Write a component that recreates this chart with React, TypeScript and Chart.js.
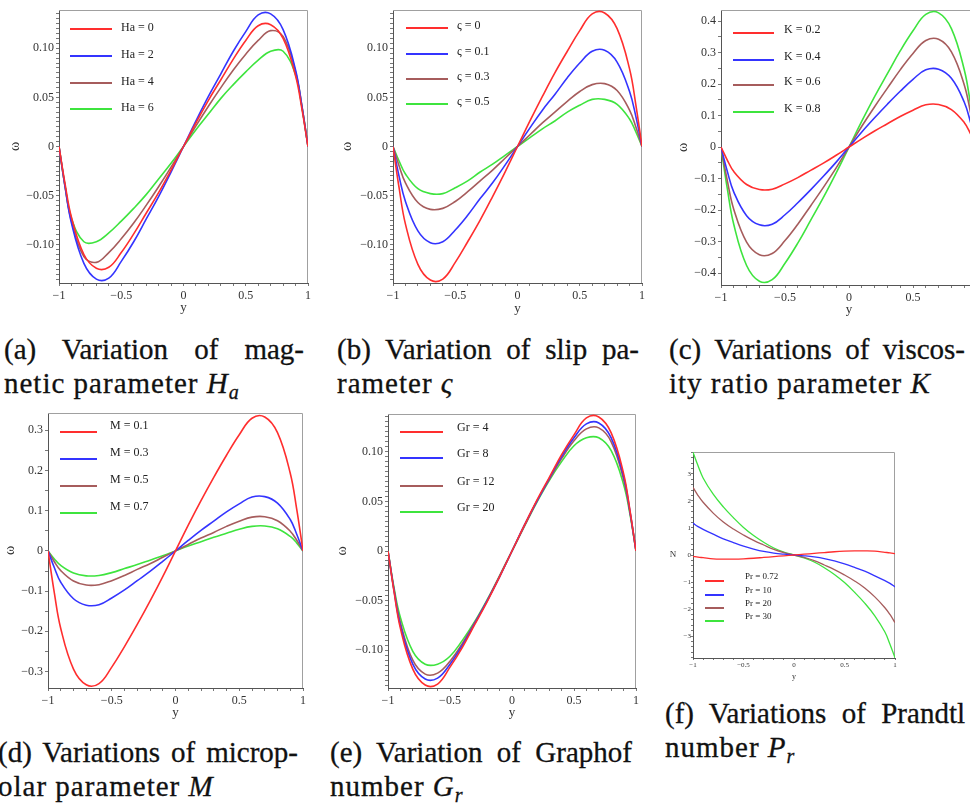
import React, { useEffect, useRef } from 'react';
import { Chart, registerables } from 'chart.js';

Chart.register(...registerables);

// ---------- shared abscissa (y) ----------
const yPos = [-1, -0.95, -0.9, -0.8, -0.7, -0.6, -0.5, -0.4, -0.3, -0.2, -0.1, 0, 0.1, 0.2, 0.3, 0.4, 0.5, 0.6, 0.7, 0.8, 0.9, 0.95, 1];
const xMajorStep = 0.5;
const xMinorStep = 0.1;

// ---------- (a) magnetic parameter Ha ----------
const haLabels = ['Ha = 0', 'Ha = 2', 'Ha = 4', 'Ha = 6'];
const ha0 = [0, -0.039, -0.072, -0.110, -0.124, -0.123, -0.108, -0.089, -0.068, -0.047, -0.024, 0, 0.024, 0.047, 0.068, 0.089, 0.108, 0.123, 0.124, 0.110, 0.072, 0.039, 0];
const ha2 = [0, -0.042, -0.078, -0.119, -0.135, -0.134, -0.117, -0.097, -0.074, -0.051, -0.026, 0, 0.026, 0.051, 0.074, 0.097, 0.117, 0.134, 0.135, 0.119, 0.078, 0.042, 0];
const ha4 = [0, -0.042, -0.076, -0.112, -0.118, -0.108, -0.094, -0.078, -0.060, -0.041, -0.021, 0, 0.021, 0.041, 0.060, 0.078, 0.094, 0.108, 0.118, 0.112, 0.076, 0.042, 0];
const ha6 = [0, -0.041, -0.073, -0.097, -0.097, -0.088, -0.076, -0.063, -0.049, -0.033, -0.017, 0, 0.017, 0.033, 0.049, 0.063, 0.076, 0.088, 0.097, 0.097, 0.073, 0.041, 0];

// ---------- (b) slip parameter ----------
const slLabels = ['ς = 0', 'ς = 0.1', 'ς = 0.3', 'ς = 0.5'];
const sl0 = [0, -0.043, -0.079, -0.120, -0.136, -0.135, -0.118, -0.097, -0.075, -0.051, -0.026, 0, 0.026, 0.051, 0.075, 0.097, 0.118, 0.135, 0.136, 0.120, 0.079, 0.043, 0];
const sl1 = [0, -0.031, -0.056, -0.086, -0.098, -0.097, -0.085, -0.070, -0.053, -0.037, -0.019, 0, 0.019, 0.037, 0.053, 0.070, 0.085, 0.097, 0.098, 0.086, 0.056, 0.031, 0];
const sl3 = [0, -0.020, -0.037, -0.057, -0.064, -0.063, -0.056, -0.046, -0.035, -0.024, -0.012, 0, 0.012, 0.024, 0.035, 0.046, 0.056, 0.063, 0.064, 0.057, 0.037, 0.020, 0];
const sl5 = [0, -0.015, -0.028, -0.043, -0.048, -0.048, -0.042, -0.035, -0.026, -0.018, -0.009, 0, 0.009, 0.018, 0.026, 0.035, 0.042, 0.048, 0.048, 0.043, 0.028, 0.015, 0];

// ---------- (c) viscosity ratio K ----------
const kLabels = ['K = 0.2', 'K = 0.4', 'K = 0.6', 'K = 0.8'];
const k2 = [0, -0.042, -0.078, -0.119, -0.135, -0.134, -0.117, -0.097, -0.074, -0.051, -0.026, 0, 0.026, 0.051, 0.074, 0.097, 0.117, 0.134, 0.135, 0.119, 0.078, 0.042, 0];
const k4 = [0, -0.078, -0.143, -0.218, -0.247, -0.245, -0.215, -0.177, -0.136, -0.093, -0.048, 0, 0.048, 0.093, 0.136, 0.177, 0.215, 0.245, 0.247, 0.218, 0.143, 0.078, 0];
const k6 = [0, -0.108, -0.198, -0.302, -0.342, -0.338, -0.297, -0.245, -0.187, -0.128, -0.066, 0, 0.066, 0.128, 0.187, 0.245, 0.297, 0.338, 0.342, 0.302, 0.198, 0.108, 0];
const k8 = [0, -0.134, -0.246, -0.376, -0.426, -0.421, -0.369, -0.305, -0.233, -0.160, -0.082, 0, 0.082, 0.160, 0.233, 0.305, 0.369, 0.421, 0.426, 0.376, 0.246, 0.134, 0];

// ---------- (d) micropolar parameter M ----------
const mLabels = ['M = 0.1', 'M = 0.3', 'M = 0.5', 'M = 0.7'];
const m1 = [0, -0.105, -0.193, -0.294, -0.333, -0.330, -0.289, -0.238, -0.183, -0.125, -0.064, 0, 0.064, 0.125, 0.183, 0.238, 0.289, 0.330, 0.333, 0.294, 0.193, 0.105, 0];
const m3 = [0, -0.042, -0.078, -0.119, -0.135, -0.134, -0.117, -0.097, -0.074, -0.051, -0.026, 0, 0.026, 0.051, 0.074, 0.097, 0.117, 0.134, 0.135, 0.119, 0.078, 0.042, 0];
const m5 = [0, -0.027, -0.049, -0.075, -0.085, -0.084, -0.074, -0.061, -0.046, -0.032, -0.016, 0, 0.016, 0.032, 0.046, 0.061, 0.074, 0.084, 0.085, 0.075, 0.049, 0.027, 0];
const m7 = [0, -0.020, -0.036, -0.055, -0.062, -0.061, -0.054, -0.044, -0.034, -0.023, -0.012, 0, 0.012, 0.023, 0.034, 0.044, 0.054, 0.061, 0.062, 0.055, 0.036, 0.020, 0];

// ---------- (e) Grashof number Gr ----------
const grLabels = ['Gr = 4', 'Gr = 8', 'Gr = 12', 'Gr = 20'];
const gr4 = [0, -0.042, -0.078, -0.119, -0.135, -0.134, -0.117, -0.097, -0.074, -0.051, -0.026, 0, 0.026, 0.051, 0.074, 0.097, 0.117, 0.134, 0.135, 0.119, 0.078, 0.042, 0];
const gr8 = [0, -0.041, -0.075, -0.114, -0.129, -0.128, -0.114, -0.095, -0.073, -0.050, -0.026, 0, 0.026, 0.050, 0.073, 0.095, 0.114, 0.128, 0.129, 0.114, 0.075, 0.041, 0];
const gr12 = [0, -0.040, -0.072, -0.110, -0.124, -0.123, -0.111, -0.093, -0.072, -0.050, -0.025, 0, 0.025, 0.050, 0.072, 0.093, 0.111, 0.123, 0.124, 0.110, 0.072, 0.040, 0];
const gr20 = [0, -0.038, -0.067, -0.101, -0.114, -0.114, -0.106, -0.090, -0.071, -0.049, -0.025, 0, 0.025, 0.049, 0.071, 0.090, 0.106, 0.114, 0.114, 0.101, 0.067, 0.038, 0];

// ---------- (f) Prandtl number Pr ----------
const prLabels = ['Pr = 0.72', 'Pr = 10', 'Pr = 20', 'Pr = 30'];
const pr072 = [-0.05, -0.08, -0.10, -0.14, -0.15, -0.15, -0.14, -0.12, -0.09, -0.06, -0.03, 0, 0.03, 0.06, 0.09, 0.12, 0.14, 0.15, 0.15, 0.14, 0.10, 0.08, 0.05];
const pr10 = [1.18, 1.05, 0.95, 0.77, 0.60, 0.46, 0.33, 0.22, 0.13, 0.07, 0.03, 0, -0.03, -0.07, -0.13, -0.22, -0.33, -0.46, -0.60, -0.77, -0.95, -1.05, -1.18];
const pr20 = [2.5, 2.2, 1.95, 1.55, 1.22, 0.96, 0.74, 0.54, 0.37, 0.21, 0.09, 0, -0.09, -0.21, -0.37, -0.54, -0.74, -0.96, -1.22, -1.55, -1.95, -2.2, -2.5];
const pr30 = [3.8, 3.3, 2.85, 2.25, 1.78, 1.38, 1.02, 0.72, 0.47, 0.26, 0.11, 0, -0.11, -0.26, -0.47, -0.72, -1.02, -1.38, -1.78, -2.25, -2.85, -3.3, -3.8];

// ---------- styling ----------
const SERIF = '"Liberation Serif", "Times New Roman", serif';
const COLORS = ['#ff2e2e', '#3434ff', '#a65c5c', '#3ee43e'];

type Legend = { x0: number; x1: number; tx: number; rows: number[]; lineDy: number; size: number };
type PanelDef = {
  key: string;
  plot: { l: number; t: number; r: number; b: number };
  labels: string[];
  series: number[][];
  yMin: number; yMax: number; yMajor: number; yMinor: number; yDec: number;
  yTitle: string; upright?: boolean; yTitleGap: number; xTitleGap: number;
  small?: boolean;
  legend: Legend;
};

const PANELS: PanelDef[] = [
  { key: 'a', plot: { l: 59, t: 10, r: 308, b: 283 }, labels: haLabels, series: [ha0, ha2, ha4, ha6],
    yMin: -0.139, yMax: 0.139, yMajor: 0.05, yMinor: 0.005, yDec: 2, yTitle: 'ω', yTitleGap: 44, xTitleGap: 25,
    legend: { x0: 11, x1: 53, tx: 62, rows: [18, 45, 72, 98], lineDy: 1, size: 12 } },
  { key: 'b', plot: { l: 393, t: 10, r: 642, b: 283 }, labels: slLabels, series: [sl0, sl1, sl3, sl5],
    yMin: -0.139, yMax: 0.139, yMajor: 0.05, yMinor: 0.005, yDec: 2, yTitle: 'ω', yTitleGap: 46, xTitleGap: 26,
    legend: { x0: 13, x1: 55, tx: 64, rows: [16, 42, 67, 92], lineDy: 2, size: 12 } },
  { key: 'c', plot: { l: 721, t: 10, r: 977, b: 285 }, labels: kLabels, series: [k2, k4, k6, k8],
    yMin: -0.438, yMax: 0.435, yMajor: 0.1, yMinor: 0.05, yDec: 1, yTitle: 'ω', yTitleGap: 38, xTitleGap: 25,
    legend: { x0: 12, x1: 53, tx: 63, rows: [20, 47, 72, 99], lineDy: 3, size: 12 } },
  { key: 'd', plot: { l: 48, t: 413, r: 303, b: 688 }, labels: mLabels, series: [m1, m3, m5, m7],
    yMin: -0.341, yMax: 0.343, yMajor: 0.1, yMinor: 0.05, yDec: 1, yTitle: 'ω', yTitleGap: 38, xTitleGap: 25,
    legend: { x0: 12, x1: 49, tx: 62, rows: [13, 40, 67, 94], lineDy: 6, size: 12 } },
  { key: 'e', plot: { l: 388, t: 414, r: 636, b: 688 }, labels: grLabels, series: [gr4, gr8, gr12, gr20],
    yMin: -0.138, yMax: 0.138, yMajor: 0.05, yMinor: 0.005, yDec: 2, yTitle: 'ω', yTitleGap: 46, xTitleGap: 25,
    legend: { x0: 12, x1: 55, tx: 69, rows: [14, 40, 68, 94], lineDy: 4, size: 12 } },
  { key: 'f', plot: { l: 693, t: 452, r: 895, b: 658 }, labels: prLabels, series: [pr072, pr10, pr20, pr30],
    yMin: -3.81, yMax: 3.81, yMajor: 1, yMinor: 0.2, yDec: 0, yTitle: 'N', upright: true, yTitleGap: 20, xTitleGap: 19,
    small: true,
    legend: { x0: 12, x1: 31, tx: 52, rows: [125, 139, 152, 165], lineDy: 4, size: 9 } },
];

function tickValues(min: number, max: number, step: number) {
  const out: number[] = [];
  const start = Math.ceil(min / step - 1e-9);
  const end = Math.floor(max / step + 1e-9);
  for (let i = start; i <= end; i++) out.push(+(i * step).toFixed(6));
  return out;
}
const isMajor = (v: number, major: number) => Math.abs(v / major - Math.round(v / major)) < 1e-6;
const minus = (v: number) => (v < 0 ? '\u2212' : '');

const framePlugin = {
  id: 'frame',
  beforeDatasetsDraw(chart: any) {
    const { ctx, chartArea: a } = chart;
    ctx.save();
    ctx.strokeStyle = '#a0a0a0';
    ctx.lineWidth = 1;
    ctx.beginPath();
    ctx.moveTo(a.left, a.top + 0.5);
    ctx.lineTo(a.right - 0.5, a.top + 0.5);
    ctx.lineTo(a.right - 0.5, a.bottom);
    ctx.stroke();
    ctx.restore();
  },
};

const legendPlugin = {
  id: 'insideLegend',
  afterDatasetsDraw(chart: any, _args: any, opts: any) {
    if (!opts || !opts.rows) return;
    const { ctx, chartArea: a } = chart;
    ctx.save();
    chart.data.datasets.forEach((ds: any, i: number) => {
      const y = a.top + opts.rows[i];
      ctx.strokeStyle = ds.borderColor;
      ctx.lineWidth = 2;
      ctx.beginPath();
      ctx.moveTo(a.left + opts.x0, y + opts.lineDy);
      ctx.lineTo(a.left + opts.x1, y + opts.lineDy);
      ctx.stroke();
      ctx.fillStyle = '#222';
      ctx.font = `${opts.size}px ${SERIF}`;
      ctx.textAlign = 'left';
      ctx.textBaseline = 'middle';
      ctx.fillText(ds.label, a.left + opts.tx, y);
    });
    ctx.restore();
  },
};

const uprightLabelPlugin = {
  id: 'uprightYLabel',
  afterDraw(chart: any, _args: any, opts: any) {
    if (!opts || !opts.text) return;
    const { ctx, chartArea: a } = chart;
    ctx.save();
    ctx.fillStyle = '#333';
    ctx.font = `${opts.size}px ${SERIF}`;
    ctx.textAlign = 'center';
    ctx.textBaseline = 'middle';
    ctx.fillText(opts.text, a.left - opts.gap, chart.scales.y.getPixelForValue(0));
    ctx.restore();
  },
};

function Panel({ def }: { def: PanelDef }) {
  const ref = useRef<HTMLCanvasElement>(null);
  const small = !!def.small;
  const AXIS_W = small ? 40 : 60;
  const AXIS_H = small ? 30 : 40;
  const PAD = 10;
  const left = def.plot.l - AXIS_W;
  const top = def.plot.t - PAD;
  const width = AXIS_W + (def.plot.r - def.plot.l) + PAD;
  const height = PAD + (def.plot.b - def.plot.t) + AXIS_H;

  useEffect(() => {
    if (!ref.current) return;
    const tickSize = small ? 7 : 12;
    const titleSize = small ? 8 : 13;
    const yTitleSize = 14;
    const xLh = titleSize * 1.2;
    const yLh = yTitleSize * 1.2;
    const chart = new Chart(ref.current, {
      type: 'line',
      data: {
        datasets: def.series.map((s, i) => ({
          label: def.labels[i],
          data: s.map((v, j) => ({ x: yPos[j], y: v })),
          borderColor: COLORS[i],
          backgroundColor: COLORS[i],
          borderWidth: small ? 1.3 : 1.6,
          pointRadius: 0,
          tension: 0.4,
          fill: false,
        })),
      },
      options: {
        responsive: false,
        animation: false,
        devicePixelRatio: 1,
        layout: { padding: { top: PAD, right: PAD, left: 0, bottom: 0 } },
        plugins: {
          legend: { display: false },
          tooltip: { enabled: false },
          insideLegend: def.legend,
          uprightYLabel: def.upright ? { text: def.yTitle, gap: def.yTitleGap, size: 9 } : {},
        } as any,
        scales: {
          x: {
            type: 'linear',
            min: -1,
            max: 1,
            afterBuildTicks: (s: any) => { s.ticks = tickValues(-1, 1, xMinorStep).map((v) => ({ value: v })); },
            afterFit: (s: any) => { s.height = AXIS_H; },
            ticks: {
              autoSkip: false,
              maxRotation: 0,
              padding: small ? 1 : 3,
              color: '#333',
              font: { family: SERIF, size: tickSize },
              callback: (v: any) => (isMajor(v, xMajorStep) ? (v === 0 ? '0' : minus(v) + String(Math.abs(v))) : ''),
            },
            grid: { drawOnChartArea: false, drawTicks: true, tickLength: small ? 2 : 3, color: '#777' },
            border: { display: true, color: '#555', width: 1 },
            title: {
              display: true, text: 'y', color: '#333',
              font: { family: SERIF, size: titleSize },
              padding: { top: 0, bottom: AXIS_H - def.xTitleGap - xLh / 2 },
            },
          },
          y: {
            type: 'linear',
            min: def.yMin,
            max: def.yMax,
            afterBuildTicks: (s: any) => { s.ticks = tickValues(def.yMin, def.yMax, def.yMinor).map((v) => ({ value: v })); },
            afterFit: (s: any) => { s.width = AXIS_W; },
            ticks: {
              autoSkip: false,
              padding: small ? 0 : 2,
              color: '#333',
              font: { family: SERIF, size: tickSize },
              callback: (v: any) => (isMajor(v, def.yMajor) ? (Math.abs(v) < 1e-9 ? '0' : minus(v) + Math.abs(v).toFixed(def.yDec)) : ''),
            },
            grid: { drawOnChartArea: false, drawTicks: true, tickLength: small ? 2 : 3, color: '#777' },
            border: { display: true, color: '#555', width: 1 },
            title: {
              display: !def.upright, text: def.yTitle, color: '#333',
              font: { family: SERIF, size: yTitleSize },
              padding: { top: AXIS_W - def.yTitleGap - yLh / 2, bottom: 0 },
            },
          },
        },
      } as any,
      plugins: [framePlugin, legendPlugin, uprightLabelPlugin] as any,
    });
    return () => chart.destroy();
  }, []);

  return (
    <canvas
      ref={ref}
      width={width}
      height={height}
      style={{ position: 'absolute', left, top, width, height }}
    />
  );
}

function Caption({ left, top, width, line1, line2 }: { left: number; top: number; width: number; line1: string; line2: React.ReactNode }) {
  return (
    <div style={{ position: 'absolute', left, top, width, fontFamily: SERIF, fontSize: 29, lineHeight: '34px', color: '#111', WebkitTextStroke: '0.3px #111' } as any}>
      <div style={{ textAlign: 'justify', textAlignLast: 'justify' as any }}>{line1}</div>
      <div style={{ letterSpacing: 1, whiteSpace: 'nowrap' }}>{line2}</div>
    </div>
  );
}

const Sub = ({ base, sub }: { base: string; sub: string }) => (
  <span>
    <i>{base}</i>
    <span style={{ fontSize: 20, position: 'relative', top: 6, fontStyle: 'italic' }}>{sub}</span>
  </span>
);

export default function App() {
  return (
    <div style={{ position: 'absolute', left: 0, top: 0, width: 970, height: 804, overflow: 'hidden', background: '#ffffff' }}>
      {PANELS.map((p) => <Panel key={p.key} def={p} />)}
      <Caption left={4} top={332} width={300} line1="(a) Variation of mag-" line2={<>netic parameter <Sub base="H" sub="a" /></>} />
      <Caption left={337} top={332} width={302} line1="(b) Variation of slip pa-" line2={<>rameter <i>ς</i></>} />
      <Caption left={669} top={332} width={296} line1="(c) Variations of viscos-" line2={<>ity ratio parameter <i>K</i></>} />
      <Caption left={-2} top={735} width={300} line1="(d) Variations of microp-" line2={<>olar parameter <i>M</i></>} />
      <Caption left={330} top={735} width={302} line1="(e) Variation of Graphof" line2={<>number <Sub base="G" sub="r" /></>} />
      <Caption left={665} top={696} width={300} line1="(f) Variations of Prandtl" line2={<>number <Sub base="P" sub="r" /></>} />
    </div>
  );
}
